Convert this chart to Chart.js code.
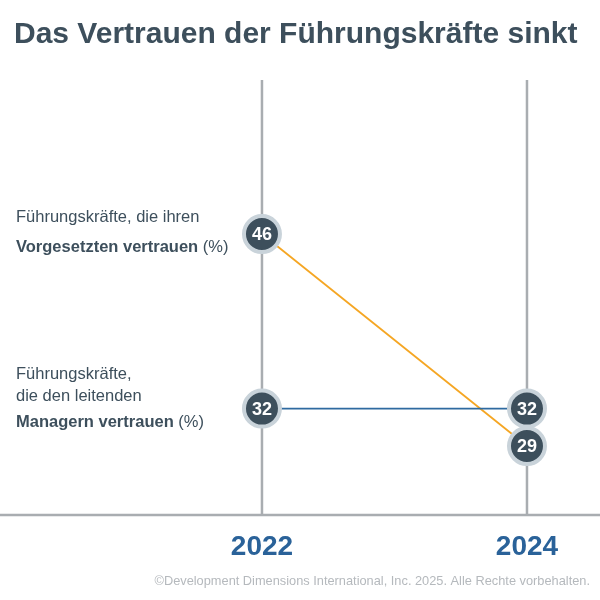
<!DOCTYPE html>
<html><head><meta charset="utf-8">
<script src="https://cdn.jsdelivr.net/npm/chart.js@4"></script>
<style>html,body{margin:0;padding:0;background:#fff}#w{width:600px;height:600px}</style>
</head><body><div id="w"><canvas id="c"></canvas></div>
<script>
const years = [2022, 2024];
const vorgesetzte = [46, 29];
const manager = [32, 32];
const title = 'Das Vertrauen der Führungskräfte sinkt';
const footer = '©Development Dimensions International, Inc. 2025. Alle Rechte vorbehalten.';
const FONT = '"Liberation Sans", Arial, sans-serif';
const slate = '#3d4f5c';

const deco = {
  id: 'deco',
  beforeDatasetsDraw(chart) {
    const {ctx, scales:{x,y}, chartArea:a} = chart;
    ctx.save();
    ctx.strokeStyle = '#a9adb1'; ctx.lineWidth = 2.5;
    years.forEach(yr => { const px = x.getPixelForValue(yr); ctx.beginPath(); ctx.moveTo(px, a.top); ctx.lineTo(px, a.bottom); ctx.stroke(); });
    ctx.beginPath(); ctx.moveTo(0, a.bottom); ctx.lineTo(600, a.bottom); ctx.stroke();
    ctx.restore();
  },
  afterDraw(chart) {
    const {ctx, scales:{x,y}} = chart;
    ctx.save();
    ctx.fillStyle = slate; ctx.font = 'bold 30px ' + FONT; ctx.textBaseline = 'alphabetic';
    ctx.fillText(title, 14, 43);
    ctx.fillStyle = '#2a6299'; ctx.font = 'bold 28px ' + FONT; ctx.textAlign = 'center';
    years.forEach(yr => ctx.fillText(String(yr), x.getPixelForValue(yr), 555));
    ctx.fillStyle = '#b5b9bd'; ctx.font = '12.8px ' + FONT; ctx.textAlign = 'right';
    ctx.fillText(footer, 590, 585);
    ctx.fillStyle = '#fff'; ctx.font = 'bold 18px ' + FONT; ctx.textAlign = 'center'; ctx.textBaseline = 'middle';
    [vorgesetzte, manager].forEach(s => s.forEach((v, i) => ctx.fillText(String(v), x.getPixelForValue(years[i]), y.getPixelForValue(v) + 1)));
    ctx.textAlign = 'left'; ctx.textBaseline = 'alphabetic';
    const y1 = y.getPixelForValue(vorgesetzte[0]);
    const y2 = y.getPixelForValue(manager[0]);
    const mixed = (parts, px, py) => { let cx = px; parts.forEach(([t,b]) => { ctx.font = (b?'bold ':'') + '16.5px ' + FONT; ctx.fillText(t, cx, py); cx += ctx.measureText(t).width; }); };
    ctx.fillStyle = slate;
    mixed([['Führungskräfte, die ihren', false]], 16, y1 - 12);
    mixed([['Vorgesetzten vertrauen', true], [' (%)', false]], 16, y1 + 18);
    mixed([['Führungskräfte,', false]], 16, y2 - 30);
    mixed([['die den leitenden', false]], 16, y2 - 8);
    mixed([['Managern vertrauen', true], [' (%)', false]], 16, y2 + 18);
    ctx.restore();
  }
};

const pt = { pointRadius: 18, pointHoverRadius: 18, pointBackgroundColor: slate, pointBorderColor: '#c9d3da', pointBorderWidth: 4, borderWidth: 1.8 };
new Chart(document.getElementById('c'), {
  type: 'line',
  data: { datasets: [
    Object.assign({ data: years.map((yr,i)=>({x:yr,y:manager[i]})), borderColor: '#2e6aa0' }, pt),
    Object.assign({ data: years.map((yr,i)=>({x:yr,y:vorgesetzte[i]})), borderColor: '#f5a623' }, pt)
  ]},
  options: {
    responsive: true, maintainAspectRatio: false, animation: false,
    layout: { autoPadding: false, padding: { top: 80, bottom: 85, left: 0, right: 0 } },
    plugins: { legend: { display: false }, tooltip: { enabled: false } },
    scales: {
      x: { type: 'linear', min: 2020.023, max: 2024.551, display: false },
      y: { min: 23.47, max: 58.35, display: false }
    }
  },
  plugins: [deco]
});
</script></body></html>
